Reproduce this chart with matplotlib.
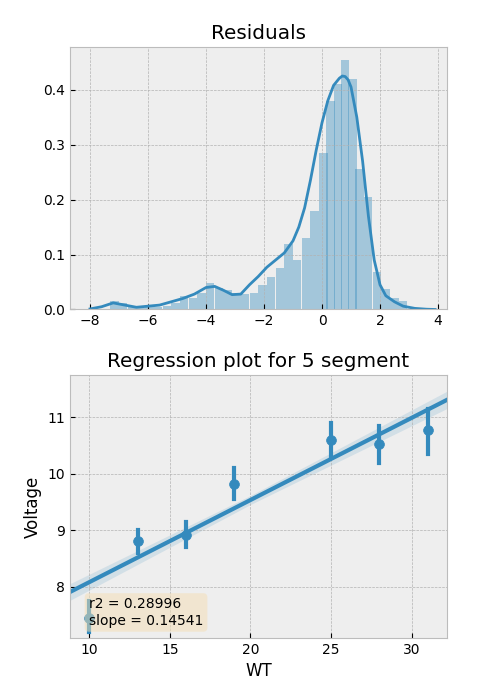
import numpy as np
import matplotlib.pyplot as plt

plt.style.use("bmh")

# residual histogram (density)
bin_left = [-7.3, -7.0, -6.7, -6.4, -6.1, -5.8, -5.5, -5.2, -4.9, -4.6, -4.3, -4.0, -3.7,
            -3.4, -3.1, -2.8, -2.5, -2.2, -1.9, -1.6, -1.3, -1.0, -0.7, -0.4, -0.1,
            0.15, 0.4, 0.65, 0.9, 1.15, 1.45, 1.75, 2.05, 2.35, 2.65]
bin_height = [0.015, 0.012, 0.004, 0.003, 0.004, 0.005, 0.006, 0.012, 0.025, 0.02, 0.03,
              0.048, 0.04, 0.035, 0.03, 0.028, 0.03, 0.045, 0.06, 0.075, 0.12, 0.09, 0.13,
              0.18, 0.285, 0.38, 0.41, 0.455, 0.42, 0.255, 0.205, 0.068, 0.038, 0.02, 0.015]
bin_width = 0.29

# kde curve points
kde_x = [-8.0, -7.6, -7.2, -6.8, -6.4, -6.0, -5.6, -5.2, -4.8, -4.4, -4.0, -3.7, -3.4,
         -3.1, -2.8, -2.5, -2.2, -1.9, -1.6, -1.3, -1.0, -0.8, -0.6, -0.4, -0.2, 0.0, 0.2,
         0.4, 0.6, 0.7, 0.8, 0.9, 1.0, 1.2, 1.4, 1.6, 1.8, 2.0, 2.2, 2.5, 2.8, 3.2, 3.6, 3.9]
kde_y = [0.001, 0.005, 0.012, 0.008, 0.004, 0.006, 0.008, 0.014, 0.02, 0.028, 0.04, 0.042,
         0.035, 0.027, 0.028, 0.045, 0.06, 0.077, 0.09, 0.103, 0.125, 0.15, 0.185, 0.235,
         0.29, 0.34, 0.38, 0.408, 0.421, 0.425, 0.424, 0.418, 0.405, 0.35, 0.27, 0.17,
         0.09, 0.045, 0.025, 0.014, 0.006, 0.002, 0.0005, 0.0]

# regression data
wt = [10, 13, 16, 19, 25, 28, 31]
volt_mean = [7.45, 8.82, 8.92, 9.82, 10.6, 10.53, 10.77]
volt_lo = [7.2, 8.6, 8.7, 9.55, 10.3, 10.2, 10.35]
volt_hi = [7.75, 9.0, 9.15, 10.1, 10.9, 10.85, 11.15]
slope = 0.14541
intercept = 6.63
r2 = 0.28996

fig, (ax1, ax2) = plt.subplots(2, 1, figsize=(5, 7), dpi=100)
fig.subplots_adjust(left=0.14, right=0.894, top=0.933, bottom=0.089, hspace=0.25)

ax1.bar(bin_left, bin_height, width=bin_width, align="edge", color="#348ABD",
        alpha=0.4, linewidth=0)
ax1.plot(kde_x, kde_y, color="#348ABD", lw=2)
ax1.set_title("Residuals")
ax1.set_xlim(-8.69, 4.31)
ax1.set_ylim(0, 0.478)
ax1.set_xticks([-8, -6, -4, -2, 0, 2, 4])
ax1.set_yticks([0.0, 0.1, 0.2, 0.3, 0.4])

xs = np.linspace(8.8, 32.2, 100)
ys = slope * xs + intercept
band = 0.08 + 0.006 * np.abs(xs - 20)
ax2.fill_between(xs, ys - band, ys + band, color="#348ABD", alpha=0.15, lw=0)
ax2.plot(xs, ys, color="#348ABD", lw=3)
for x, m, lo, hi in zip(wt, volt_mean, volt_lo, volt_hi):
    ax2.plot([x, x], [lo, hi], color="#348ABD", lw=3)
ax2.scatter(wt, volt_mean, color="#348ABD", s=50, zorder=3)
ax2.set_xlim(8.8, 32.2)
ax2.set_ylim(7.1, 11.75)
ax2.set_yticks([8, 9, 10, 11])
ax2.set_title("Regression plot for 5 segment")
ax2.set_xlabel("WT")
ax2.set_ylabel("Voltage")
ax2.text(0.05, 0.05, f"r2 = {r2:.5f}\nslope = {slope:.5f}", transform=ax2.transAxes,
         fontsize=10, bbox=dict(boxstyle="round", facecolor="wheat", alpha=0.5, edgecolor="none"))

plt.savefig("out.png")
